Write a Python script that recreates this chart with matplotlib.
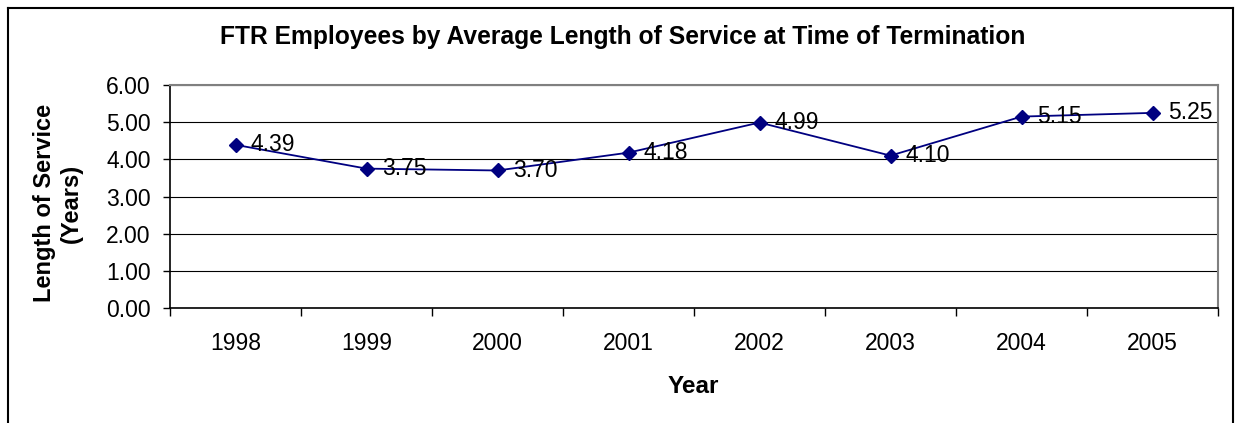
import matplotlib
matplotlib.use("Agg")
import matplotlib.pyplot as plt
from matplotlib.lines import Line2D

# --- Data ---
years = ["1998", "1999", "2000", "2001", "2002", "2003", "2004", "2005"]
service = [4.39, 3.75, 3.70, 4.18, 4.99, 4.10, 5.15, 5.25]

W, H = 1236, 423
DPI = 100
NAVY = "#000080"
FS = 16.5

plt.rcParams["font.family"] = ["Liberation Sans", "DejaVu Sans"]

fig = plt.figure(figsize=(W / DPI, H / DPI), dpi=DPI)

# plot area in pixel coordinates (from the top-left corner)
left, right, top, bottom = 170, 1218, 85, 308
ax = fig.add_axes([left / W, 1 - bottom / H, (right - left) / W, (bottom - top) / H])

x = list(range(len(years)))
ax.plot(x, service, color=NAVY, lw=1.3, marker="D", ms=7.5, mfc=NAVY, mec=NAVY)
for xi, v in zip(x, service):
    ax.annotate(f"{v:.2f}", (xi, v), xytext=(11, 0), textcoords="offset points",
                ha="left", va="center", fontsize=FS)

ax.set_xlim(-0.5, len(years) - 0.5)
ax.set_ylim(0, 6)
ax.set_yticks([0, 1, 2, 3, 4, 5, 6])
ax.set_yticklabels([f"{t:.2f}" for t in range(7)], fontsize=FS)
ax.yaxis.grid(True, color="black", lw=0.8)
ax.set_axisbelow(True)

# category axis: ticks sit between categories, labels centred in each band
ax.set_xticks([i - 0.5 for i in range(len(years) + 1)])
ax.set_xticklabels([])
ax.set_xticks(x, minor=True)
ax.set_xticklabels(years, minor=True, fontsize=FS)
ax.tick_params(axis="x", which="major", length=6, width=1, direction="out")
ax.tick_params(axis="x", which="minor", length=0, pad=17)
ax.tick_params(axis="y", length=5, width=1, pad=9)

for s in ("top", "right"):
    ax.spines[s].set_color("#808080")
    ax.spines[s].set_linewidth(1.5)
for s in ("left", "bottom"):
    ax.spines[s].set_color("black")
    ax.spines[s].set_linewidth(1.2)

fig.text(693 / W, 1 - 386 / H, "Year", ha="center", va="center",
         fontsize=17.5, fontweight="bold")
fig.text(58 / W, 1 - 203 / H, "Length of Service\n(Years)", ha="center", va="center",
         rotation=90, fontsize=17, fontweight="bold", linespacing=1.25)
fig.text(623 / W, 1 - 37 / H, "FTR Employees by Average Length of Service at Time of Termination",
         ha="center", va="center", fontsize=17.7, fontweight="bold")

# outer chart border (left, top, right edges)
bx0, bx1, by0 = 8 / W, 1233 / W, 1 - 8 / H
for xs, ys in (([bx0, bx0], [0, by0]), ([bx0, bx1], [by0, by0]), ([bx1, bx1], [by0, 0])):
    fig.add_artist(Line2D(xs, ys, transform=fig.transFigure, color="black", lw=1.5))

fig.savefig("out.png", dpi=DPI)
